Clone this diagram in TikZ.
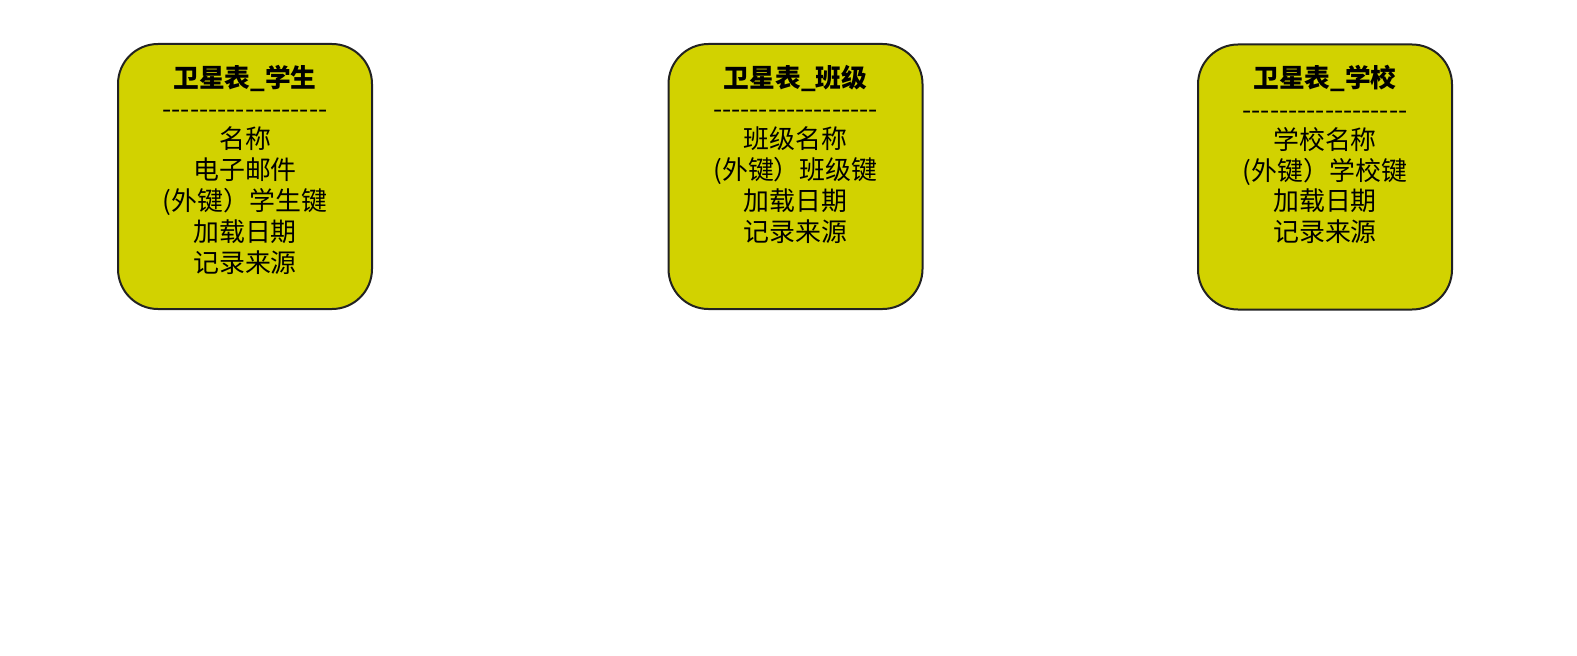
\documentclass[tikz,border=0pt]{standalone}
\usepackage{fontspec}
\newfontfamily\cjk{Noto Sans CJK SC}
\definecolor{satfill}{HTML}{D2D200}
\definecolor{satline}{HTML}{222222}
\newcommand{\dashrow}{------------------}

\begin{document}
\begin{tikzpicture}[x=1bp,y=1bp,
		satellite/.style = {draw=satline, fill=satfill, line width=2bp, rounded corners=40bp, minimum width=254bp, minimum height=265bp},
		satname/.style = {font={\cjk\bfseries\fontsize{25.8}{31}\selectfont}, anchor=base, inner sep=0pt},
		satrule/.style = {font={\cjk\fontsize{26.5}{31}\selectfont}, anchor=base, inner sep=0pt},
		satfields/.style = {font={\cjk\fontsize{26}{31}\selectfont}, align=center, anchor=north, inner sep=0pt}]
		\useasboundingbox (0,0) rectangle (1577,-656);
		
		\node[satellite] (student) at (245,-176.5) {};
		\node[satellite] (class) at (795.5,-176.5) {};
		\node[satellite] (school) at (1325,-177) {};
		
		\node[satname] (student-name) at (245,-87.5) {卫星表\_学生};
		\node[satname] (class-name) at (795.5,-87.5) {卫星表\_班级};
		\node[satname] (school-name) at (1325,-88) {卫星表\_学校};
		
		\node[satrule] (student-rule) at (245,-119) {\dashrow};
		\node[satrule] (class-rule) at (795.5,-119) {\dashrow};
		\node[satrule] (school-rule) at (1325,-119.5) {\dashrow};
		
		\node[satfields] (student-fields) at (245,-126.5) {名称\\电子邮件\\(外键）学生键\\加载日期\\记录来源};
		\node[satfields] (class-fields) at (795.5,-126.5) {班级名称\\(外键）班级键\\加载日期\\记录来源};
		\node[satfields] (school-fields) at (1325,-127) {学校名称\\(外键）学校键\\加载日期\\记录来源};
	\end{tikzpicture}
\end{document}
